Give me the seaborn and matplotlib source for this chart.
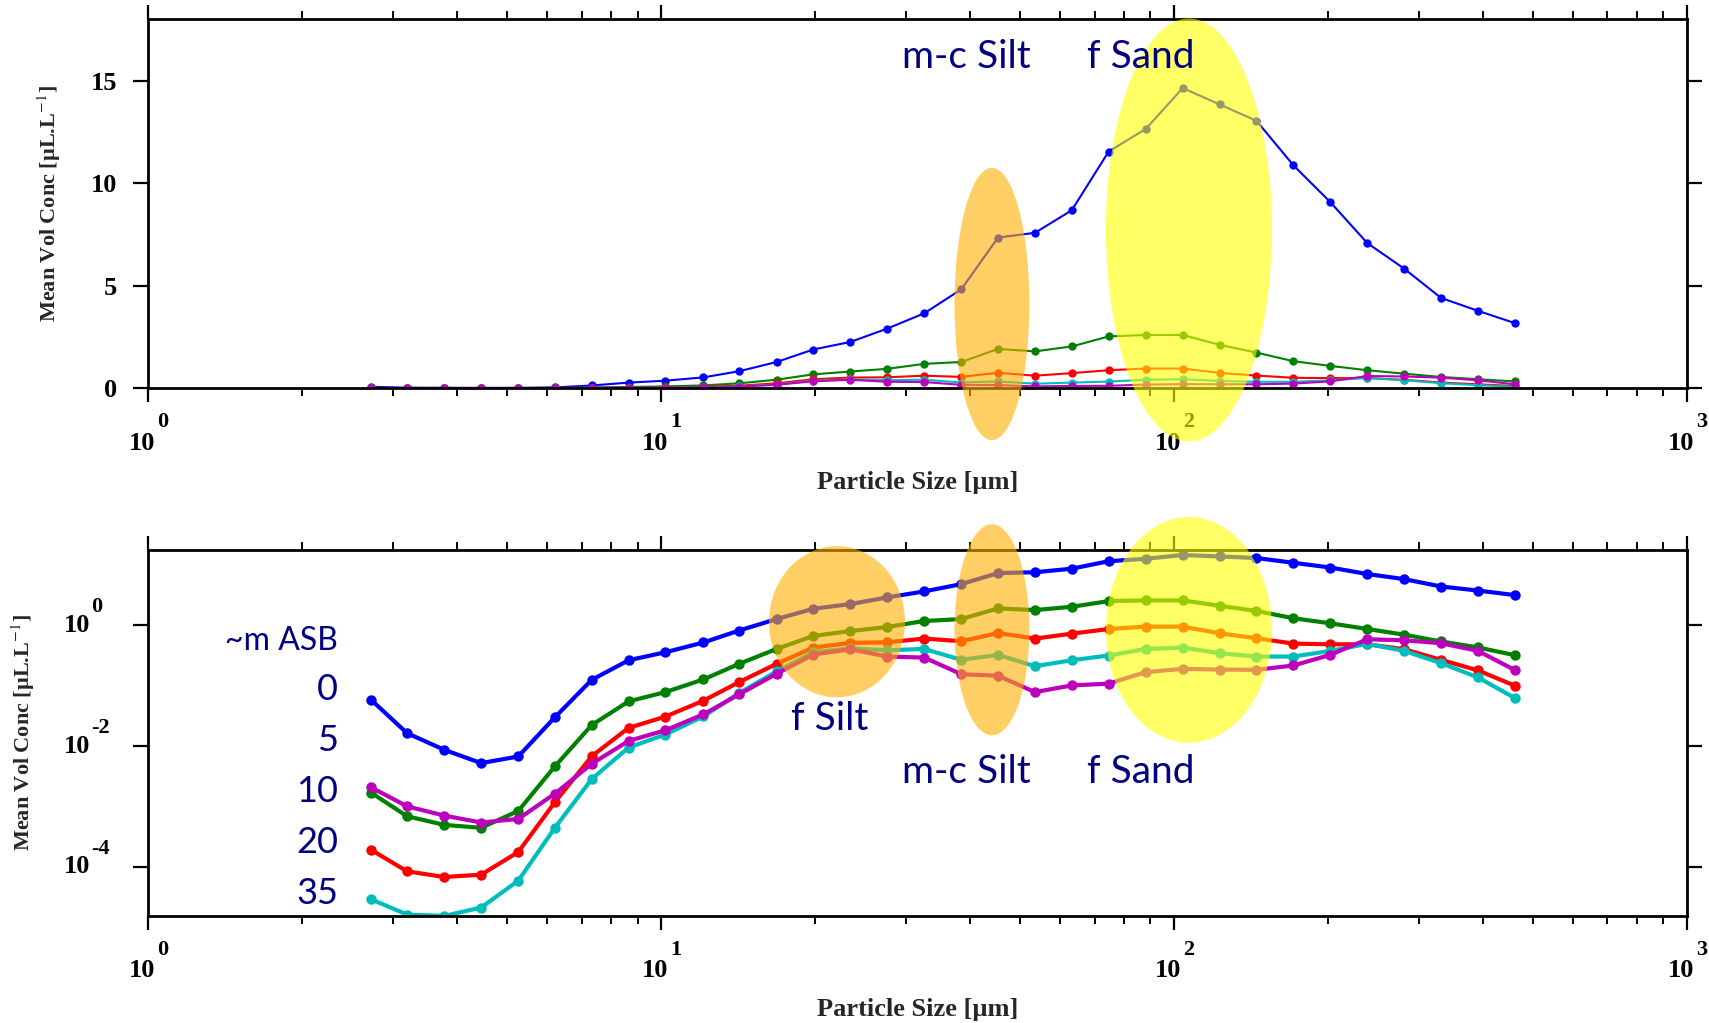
import matplotlib
matplotlib.use("Agg")
import matplotlib.pyplot as plt
from matplotlib.patches import Ellipse
from matplotlib.ticker import FixedLocator, LogLocator, NullFormatter, NullLocator
import numpy as np
import pandas as pd
import seaborn as sns

# particle size bin centres [um]
sizes = [2.72, 3.20, 3.78, 4.46, 5.27, 6.21, 7.33, 8.65, 10.2, 12.1, 14.2, 16.8,
         19.8, 23.4, 27.6, 32.6, 38.5, 45.4, 53.6, 63.2, 74.6, 88.1, 104.0, 122.7,
         144.8, 170.9, 201.7, 238.1, 281.0, 331.6, 391.4, 461.9]

# mean volume concentration [uL/L] per depth above bed
conc_0m = [0.0586, 0.0163, 0.00865, 0.00521, 0.00671, 0.0299, 0.125, 0.264, 0.358,
           0.52, 0.82, 1.27, 1.88, 2.25, 2.90, 3.65, 4.82, 7.35, 7.58, 8.68, 11.55,
           12.65, 14.65, 13.85, 13.05, 10.88, 9.08, 7.08, 5.83, 4.40, 3.77, 3.17]
conc_5m = [0.00169, 0.000686, 0.000493, 0.000441, 0.000839, 0.00459, 0.0223, 0.0550,
           0.0783, 0.127, 0.230, 0.406, 0.667, 0.805, 0.938, 1.18, 1.27, 1.91, 1.79,
           2.03, 2.52, 2.59, 2.59, 2.11, 1.73, 1.31, 1.08, 0.87, 0.70, 0.54, 0.43, 0.32]
conc_10m = [1.91e-4, 8.38e-5, 6.75e-5, 7.38e-5, 1.75e-4, 1.17e-3, 6.79e-3, 0.0200,
            0.0307, 0.0564, 0.1146, 0.230, 0.428, 0.511, 0.524, 0.603, 0.545, 0.746,
            0.603, 0.728, 0.869, 0.951, 0.951, 0.738, 0.610, 0.498, 0.485, 0.485,
            0.402, 0.268, 0.179, 0.0998]
conc_20m = [2.89e-5, 1.61e-5, 1.53e-5, 2.10e-5, 5.87e-5, 4.41e-4, 2.84e-3, 9.44e-3,
            0.0155, 0.0310, 0.0755, 0.172, 0.358, 0.417, 0.386, 0.406, 0.268, 0.324,
            0.210, 0.264, 0.316, 0.406, 0.428, 0.345, 0.304, 0.304, 0.377, 0.492,
            0.377, 0.236, 0.137, 0.0624]
conc_35m = [2.07e-3, 1.00e-3, 7.03e-4, 5.40e-4, 6.19e-4, 1.62e-3, 5.08e-3, 0.01216,
            0.01824, 0.0335, 0.0718, 0.157, 0.328, 0.402, 0.304, 0.292, 0.155, 0.146,
            0.0783, 0.101, 0.108, 0.168, 0.190, 0.185, 0.183, 0.216, 0.324, 0.587,
            0.565, 0.505, 0.377, 0.181]

depths = ["0", "5", "10", "20", "35"]
line_colors = ["#0000ff", "#008000", "#ff0000", "#00bdbd", "#bd00bd"]

# axis ticks
x_ticks = [1, 10, 100, 1000]
x_exponents = ["0", "1", "2", "3"]
y_top_ticks = [0, 5, 10, 15]
y_log_ticks = [1e-4, 1e-2, 1]
y_log_exponents = ["-4", "-2", "0"]

df = pd.concat(
    [pd.DataFrame({"size": sizes, "conc": c, "depth": d})
     for d, c in zip(depths, [conc_0m, conc_5m, conc_10m, conc_20m, conc_35m])],
    ignore_index=True,
)

sns.set_theme(style="ticks")
plt.rcParams["font.family"] = ["Liberation Serif", "DejaVu Serif"]
plt.rcParams["mathtext.fontset"] = "stix"
plt.rcParams.update({
    "xtick.direction": "out", "ytick.direction": "out",
    "xtick.top": True, "ytick.right": True,
    "xtick.color": "black", "ytick.color": "black",
    "xtick.labelcolor": "black", "ytick.labelcolor": "black",
    "xtick.major.size": 10, "ytick.major.size": 11,
    "xtick.minor.size": 5.5, "ytick.minor.size": 5.5,
    "xtick.major.width": 1.6, "ytick.major.width": 1.6,
    "xtick.minor.width": 1.4, "ytick.minor.width": 1.4,
    "ytick.major.pad": 11, "ytick.labelsize": 19,
    "axes.linewidth": 2, "axes.edgecolor": "black",
})

NAVY = "#000080"
ORANGE = "#ffb000"
YELLOW = "#ffff00"
TICK_FONT = dict(fontsize=19, fontweight="bold", color="black")
EXP_FONT = dict(fontsize=16, fontweight="bold", color="black")

fig = plt.figure(figsize=(17.09, 10.23), dpi=100)
ax_top = fig.add_axes([0.0866, 0.6207, 0.9005, 0.3603])
ax_bot = fig.add_axes([0.0866, 0.105, 0.9005, 0.3577])

palette = dict(zip(depths, line_colors))
sns.lineplot(data=df, x="size", y="conc", hue="depth", hue_order=depths, palette=palette,
             marker="o", markersize=6, markeredgewidth=0, linewidth=1.5,
             errorbar=None, legend=False, ax=ax_top)
sns.lineplot(data=df, x="size", y="conc", hue="depth", hue_order=depths, palette=palette,
             marker="o", markersize=7.5, markeredgewidth=0, linewidth=3,
             errorbar=None, legend=False, ax=ax_bot)

ax_top.set_ylim(0, 18)
ax_top.set_yticks(y_top_ticks)
for lbl in ax_top.get_yticklabels():
    lbl.set_fontweight("bold")

# log axis: "10" plus raised exponent, written as separate texts
ax_bot.set_yscale("log")
ax_bot.set_ylim(10 ** -4.81, 10 ** 1.254)
ax_bot.yaxis.set_major_locator(FixedLocator(y_log_ticks))
ax_bot.yaxis.set_major_formatter(NullFormatter())
ax_bot.yaxis.set_minor_locator(NullLocator())
ytr = ax_bot.get_yaxis_transform()
for v, e in zip(y_log_ticks, y_log_exponents):
    ax_bot.annotate("10", xy=(0, v), xycoords=ytr, xytext=(-41.5, 0), textcoords="offset points",
                    ha="right", va="center", annotation_clip=False, **TICK_FONT)
    ax_bot.annotate(e, xy=(0, v), xycoords=ytr, xytext=(-41, 9.4), textcoords="offset points",
                    ha="left", va="baseline", annotation_clip=False, **EXP_FONT)

for ax in (ax_top, ax_bot):
    ax.set_xscale("log")
    ax.set_xlim(1, 1000)
    ax.xaxis.set_major_locator(FixedLocator(x_ticks))
    ax.xaxis.set_major_formatter(NullFormatter())
    ax.xaxis.set_minor_locator(LogLocator(base=10, subs=np.arange(2, 10)))
    ax.xaxis.set_minor_formatter(NullFormatter())
    xtr = ax.get_xaxis_transform()
    for v, e in zip(x_ticks, x_exponents):
        ax.annotate("10", xy=(v, 0), xycoords=xtr, xytext=(5, -31.5), textcoords="offset points",
                    ha="right", va="top", annotation_clip=False, **TICK_FONT)
        ax.annotate(e, xy=(v, 0), xycoords=xtr, xytext=(6.5, -17.5), textcoords="offset points",
                    ha="left", va="top", annotation_clip=False, **EXP_FONT)
    ax.set_xlabel("Particle Size [µm]", fontsize=19, fontweight="bold")
    ax.set_ylabel("Mean Vol Conc [µL.L$^{-1}$]", fontsize=16, fontweight="bold")
    ax.xaxis.set_label_coords(0.5, -0.225)
    ax.grid(False)

ax_top.yaxis.set_label_coords(-0.055, 0.5)
ax_bot.yaxis.set_label_coords(-0.072, 0.5)


def blob(ax, cx, cy, w, h, color):
    ax.add_patch(Ellipse((cx, cy), w, h, transform=ax.transAxes, facecolor=color,
                         edgecolor="none", alpha=0.6, zorder=10, clip_on=False))


def label(ax, x, y, s, size=28, ha="center"):
    ax.text(x, y, s, transform=ax.transAxes, fontsize=size, color=NAVY,
            family=["Lato", "DejaVu Sans"], ha=ha, va="center", zorder=12, clip_on=False)


blob(ax_top, 0.5484, 0.228, 0.0487, 0.739, ORANGE)
blob(ax_top, 0.6764, 0.429, 0.1079, 1.147, YELLOW)
label(ax_top, 0.5315, 0.897, "m-c Silt")
label(ax_top, 0.6452, 0.897, "f Sand")

blob(ax_bot, 0.4477, 0.803, 0.0884, 0.413, ORANGE)
blob(ax_bot, 0.5484, 0.781, 0.0487, 0.577, ORANGE)
blob(ax_bot, 0.6764, 0.781, 0.1079, 0.617, YELLOW)
label(ax_bot, 0.443, 0.536, "f Silt")
label(ax_bot, 0.5315, 0.393, "m-c Silt")
label(ax_bot, 0.6452, 0.393, "f Sand")

label(ax_bot, 0.1235, 0.751, "~m ASB", size=23, ha="right")
for d, yy in zip(depths, [0.617, 0.478, 0.339, 0.199, 0.060]):
    label(ax_bot, 0.1235, yy, d, size=26, ha="right")

fig.savefig("out.png", dpi=100)
